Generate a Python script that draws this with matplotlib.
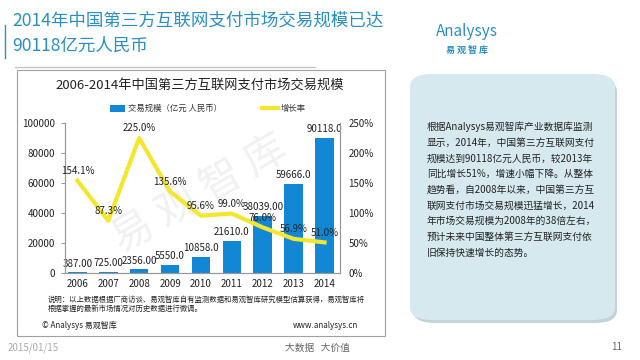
import matplotlib
matplotlib.use("Agg")
import matplotlib.pyplot as plt
from matplotlib.patches import FancyBboxPatch, Rectangle
from matplotlib.lines import Line2D
import numpy as np

plt.rcParams['font.family'] = ['Noto Sans CJK SC', 'DejaVu Sans']

years = ['2006', '2007', '2008', '2009', '2010', '2011', '2012', '2013', '2014']
volume = [387, 725, 2356, 5550, 10858, 21610, 38039, 59666, 90118]
volume_labels = ['387.00', '725.00', '2356.00', '5550.0', '10858.0',
                 '21610.0', '38039.00', '59666.0', '90118.0']
growth = [154.1, 87.3, 225.0, 135.6, 95.6, 99.0, 76.0, 56.9, 51.0]
left_ticks = [0, 20000, 40000, 60000, 80000, 100000]
right_ticks = [0, 50, 100, 150, 200, 250]

blue = '#1288d4'
yellow = '#f4e62c'
teal = '#2a8fc2'

fig = plt.figure(figsize=(6.4, 3.6), dpi=100)
fig.patch.set_facecolor('white')

def px(x, y):
    return x / 640, 1 - y / 360

# slide title
fig.text(*px(12, 21), '2014年中国第三方互联网支付市场交易规模已达', fontsize=12.6,
         color=teal, va='center', ha='left')
fig.text(*px(12, 46), '90118亿元人民币', fontsize=12.6, color=teal, va='center', ha='left')
fig.add_artist(Line2D([5/640, 5/640], [1-25/360, 1-58/360], color=teal, lw=1))
fig.add_artist(Line2D([15/640, 315/640], [1-67/360, 1-67/360], color='#c4c4c4', lw=1))

# logo
fig.text(*px(467, 32), 'Analysys', fontsize=11, color=teal, style='italic',
         ha='center', va='center')
fig.text(*px(467, 50), '易 观 智 库', fontsize=6.5, color=teal, ha='center', va='center',
         weight='bold')

# chart frame
fig.add_artist(Rectangle(px(17, 336), 368/640, 266/360, fill=False,
                         edgecolor='#a0a0a0', lw=0.8))
fig.text(*px(200, 85), '2006-2014年中国第三方互联网支付市场交易规模', fontsize=9.5,
         ha='center', va='center', color='#222222')

# legend
fig.add_artist(Rectangle(px(110, 112), 15/640, 7/360, color=blue, lw=0))
fig.text(*px(128, 108), '交易规模（亿元 人民币）', fontsize=6, va='center', ha='left',
         color='#333333')
fig.add_artist(Line2D([262/640, 278/640], [1-108/360, 1-108/360], color=yellow, lw=3))
fig.text(*px(281, 108), '增长率', fontsize=6, va='center', ha='left', color='#333333')

# watermark
fig.text(*px(200, 195), '易 观 智 库', fontsize=30, color='#f1f1f1', rotation=30,
         ha='center', va='center', zorder=-1)

ax = fig.add_axes([65/640, 87/360, 275/640, 150/360])
ax.patch.set_alpha(0)
x = np.arange(len(years))
ax.bar(x, volume, width=0.6, color=blue, zorder=2)
ax.set_xlim(-0.4, 8.5)
ax.set_ylim(0, 100000)
ax.set_yticks(left_ticks)
ax.set_yticklabels([str(t) for t in left_ticks])
ax.set_xticks(x)
ax.set_xticklabels(years)
ax.tick_params(axis='both', labelsize=7, colors='#222222', length=0, pad=4)
ax.tick_params(axis='y', length=3, color='#999999', direction='out')
ax.spines['top'].set_visible(False)
for s in ['left', 'bottom', 'right']:
    ax.spines[s].set_color('#999999')
    ax.spines[s].set_linewidth(0.8)
for xi, v, lab in zip(x, volume, volume_labels):
    ax.text(xi, v + 2500, lab, ha='center', va='bottom', fontsize=7, color='#222222', zorder=4)

ax2 = ax.twinx()
ax2.patch.set_alpha(0)
ax2.plot(x, growth, color=yellow, lw=3, zorder=3)
ax2.set_ylim(0, 250)
ax2.set_yticks(right_ticks)
ax2.set_yticklabels([f'{t}%' for t in right_ticks])
ax2.tick_params(axis='y', labelsize=7, colors='#222222', length=0, pad=6)
ax2.spines['top'].set_visible(False)
for s in ['left', 'bottom', 'right']:
    ax2.spines[s].set_color('#999999')
    ax2.spines[s].set_linewidth(0.8)
for xi, g in zip(x, growth):
    ax2.text(xi, g + 8, f'{g:.1f}%', ha='center', va='bottom', fontsize=7,
             color='#222222', zorder=5)

# notes
fig.text(*px(48, 300), '说明：以上数据根据厂商访谈、易观智库自有监测数据和易观智库研究模型估算获得，易观智库将',
         fontsize=5.3, ha='left', va='center', color='#222222')
fig.text(*px(48, 309), '根据掌握的最新市场情况对历史数据进行微调。', fontsize=5.3, ha='left',
         va='center', color='#222222')
fig.text(*px(42, 325), '© Analysys 易观智库', fontsize=5.8, ha='left', va='center',
         color='#222222')
fig.text(*px(358, 325), 'www.analysys.cn', fontsize=5.8, ha='right', va='center',
         color='#222222')

# right summary box
shadow = FancyBboxPatch(px(413, 323), 204/640, 244/360,
                        boxstyle='round,pad=0,rounding_size=0.035',
                        transform=fig.transFigure, facecolor='#c3d2d8', edgecolor='none')
fig.add_artist(shadow)
box = FancyBboxPatch(px(410, 320), 205/640, 246/360,
                     boxstyle='round,pad=0,rounding_size=0.035',
                     transform=fig.transFigure, facecolor='#d5e9ef', edgecolor='none')
fig.add_artist(box)
summary = ['根据Analysys易观智库产业数据库监测',
           '显示，2014年，中国第三方互联网支付',
           '规模达到90118亿元人民币，较2013年',
           '同比增长51%，增速小幅下降。从整体',
           '趋势看，自2008年以来，中国第三方互',
           '联网支付市场交易规模迅猛增长，2014',
           '年市场交易规模为2008年的38倍左右，',
           '预计未来中国整体第三方互联网支付依',
           '旧保持快速增长的态势。']
for i, line in enumerate(summary):
    fig.text(*px(427, 127 + i * 15.7), line, fontsize=7, ha='left', va='center',
             color='#222222')

# footer
fig.text(*px(8, 348), '2015/01/15', fontsize=7, color='#aaaaaa', ha='left', va='center')
fig.text(*px(285, 348), '大数据   大价值', fontsize=7, color='#666666', ha='left', va='center')
fig.text(*px(622, 347), '11', fontsize=7, color='#666666', ha='right', va='center')

fig.savefig('out.png', dpi=100)
